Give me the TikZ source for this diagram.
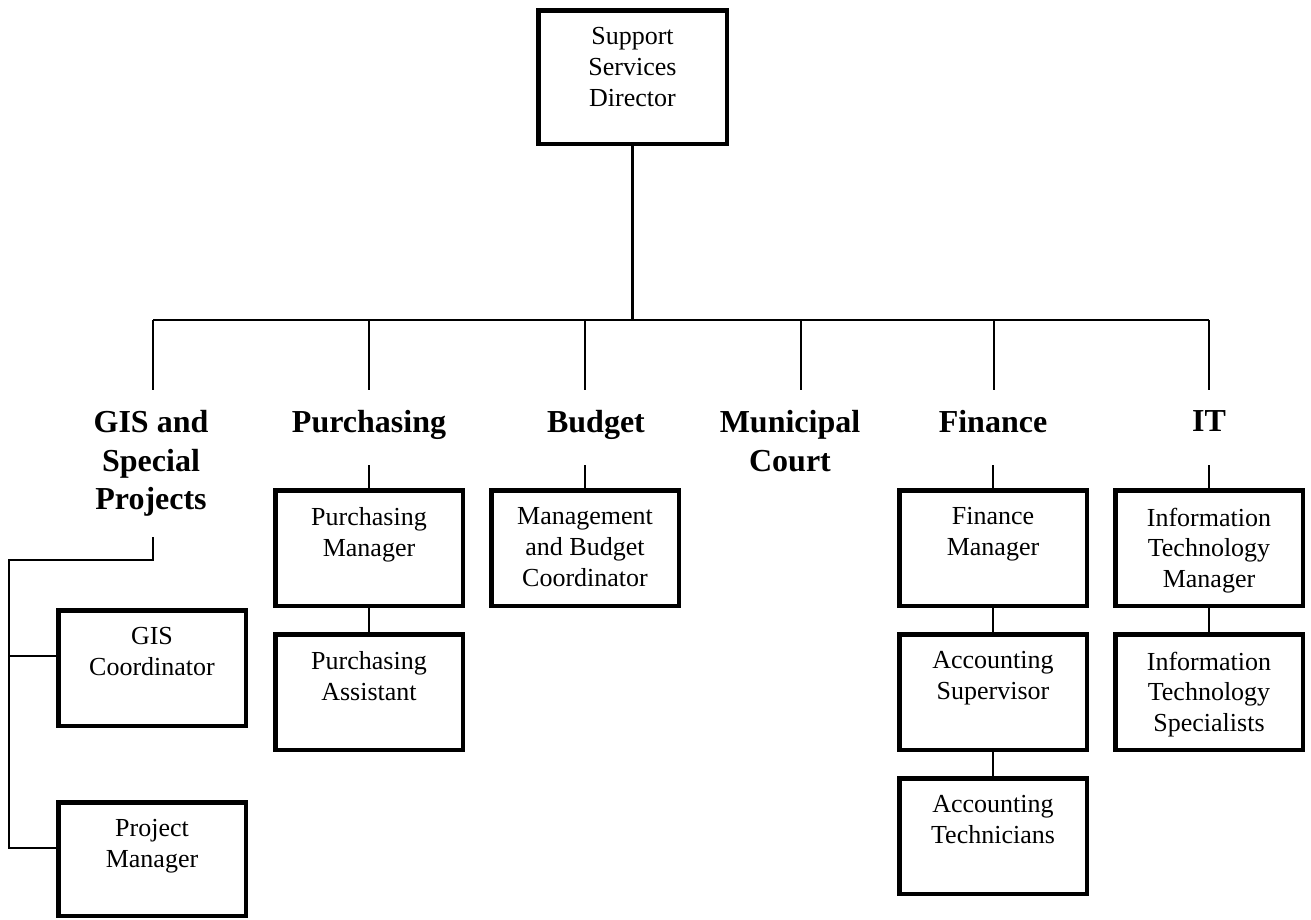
\documentclass[tikz,border=0pt]{standalone}
\usepackage{fontspec}
\setmainfont{Liberation Serif}
\begin{document}
\begin{tikzpicture}[x=1pt,y=-1pt,
  box/.style={draw, line width=4.5pt, minimum width=187.5pt, minimum height=115.5pt, inner sep=0pt},
  boxtext/.style={font=\fontsize{26}{30.8}\selectfont, align=center, inner sep=0pt, anchor=north},
  head/.style={font=\fontsize{32}{38.3}\selectfont\bfseries, align=center, inner sep=0pt, anchor=north},
  link/.style={line width=2.8pt}]
% canvas
\fill[white] (0,0) rectangle (1311,919);
\useasboundingbox (0,0) rectangle (1311,919);

% director
\node[box, minimum width=188.5pt, minimum height=133.5pt] (dir) at (632.5,77) {};
\node[boxtext] (dirT) at ([yshift=-19.5pt]dir.north) {Support\\Services\\Director};

% division headings
\node[head] (gisH) at (151,410.5) {GIS and\\Special\\Projects};
\node[head] (purH) at (369,410.5) {Purchasing};
\node[head] (budH) at (596,410.5) {Budget};
\node[head] (munH) at (790,410.5) {Municipal\\Court};
\node[head] (finH) at (993,410.5) {Finance};
\node[head] (itH)  at (1209,410.5) {IT};

% staff boxes
\node[box] (pm)  at (369,548) {};
\node[box] (pa)  at (369,692) {};
\node[box] (mbc) at (585,548) {};
\node[box] (fm)  at (993,548) {};
\node[box] (as)  at (993,692) {};
\node[box] (at)  at (993,836) {};
\node[box] (itm) at (1209,548) {};
\node[box] (its) at (1209,692) {};
\node[box] (gis) at (152,668) {};
\node[box, minimum height=113.5pt] (prj) at (152,859) {};

\node[boxtext] (pmT)  at ([yshift=-19.5pt]pm.north)  {Purchasing\\Manager};
\node[boxtext] (paT)  at ([yshift=-19.5pt]pa.north)  {Purchasing\\Assistant};
\node[boxtext] (mbcT) at ([yshift=-19.5pt]mbc.north) {Management\\and Budget\\Coordinator};
\node[boxtext] (fmT)  at ([yshift=-19.5pt]fm.north)  {Finance\\Manager};
\node[boxtext] (asT)  at ([yshift=-19.5pt]as.north)  {Accounting\\Supervisor};
\node[boxtext] (atT)  at ([yshift=-19.5pt]at.north)  {Accounting\\Technicians};
\node[boxtext] (itmT) at ([yshift=-19.5pt]itm.north) {Information\\Technology\\Manager};
\node[boxtext] (itsT) at ([yshift=-19.5pt]its.north) {Information\\Technology\\Specialists};
\node[boxtext] (gisT) at ([yshift=-19.5pt]gis.north) {GIS\\Coordinator};
\node[boxtext] (prjT) at ([yshift=-19.5pt]prj.north) {Project\\Manager};

% main bar and drops
\coordinate (barL) at (153,320);
\coordinate (barR) at (1209,320);
\draw[link] (dir.south) -- (dir.south |- barL);
\draw[link] (barL) -- (barR);
\foreach \n/\x in {gisD/153, purD/369, budD/585, munD/801, finD/994, itD/1209}{
  \coordinate (\n) at (\x,390);
  \draw[link] (\n |- barL) -- (\n);
}

% department chains
\draw[link] (pm.north) -- ++(0,-23);
\draw[link] (mbc.north) -- ++(0,-23);
\draw[link] (fm.north) -- ++(0,-23);
\draw[link] (itm.north) -- ++(0,-23);
\draw[link] (pm.south) -- (pa.north);
\draw[link] (fm.south) -- (as.north);
\draw[link] (as.south) -- (at.north);
\draw[link] (itm.south) -- (its.north);

% GIS and Special Projects branch
\coordinate (gisTop) at (153,537);
\coordinate (gisCorner) at (9,560);
\coordinate (gisJoin) at (9,656);
\coordinate (prjJoin) at (9,848);
\draw[link] (gisTop) -- (gisTop |- gisCorner) -- (gisCorner) -- (prjJoin) -- (prjJoin -| prj.west);
\draw[link] (gisJoin) -- (gisJoin -| gis.west);
\end{tikzpicture}
\end{document}
